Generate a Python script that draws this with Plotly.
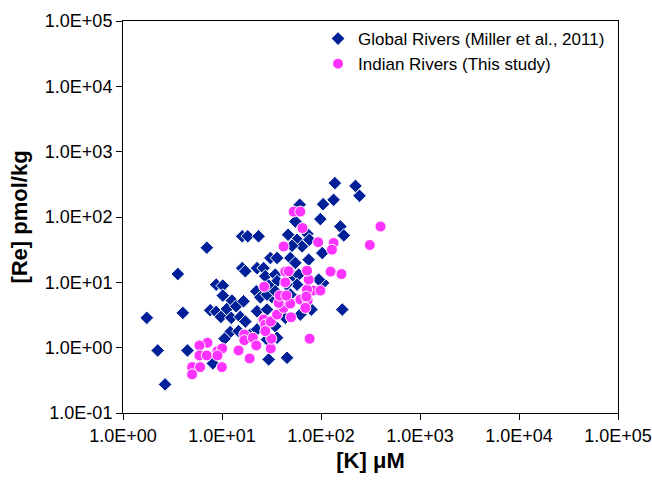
import plotly.graph_objects as go

# Global Rivers (Miller et al., 2011): [K] uM and [Re] pmol/kg
global_k = [1.74, 2.24, 2.66, 3.58, 4.02, 4.48, 7.03, 8.09, 7.60, 8.74,
            11.2, 9.75, 8.74, 10.2, 10.2, 12.4, 12.6, 13.9, 16.5, 15.3,
            17.2, 12.1, 10.6, 14.7, 19.3, 22.6, 22.2, 22.6, 28.5, 24.4,
            32.0, 34.5, 36.0, 28.5, 29.6, 45.4, 43.6, 61.8, 80.0, 164,
            16.0, 18.2, 23.4, 16.0, 17.2, 22.6, 26.3, 27.4, 34.5, 36.0,
            29.6, 28.5, 34.5, 30.8, 36.0, 49.0, 55.1, 46.5, 57.3, 64.4,
            72.8, 76.3, 51.0, 52.9, 59.5, 57.3, 49.0, 75.1, 44.7, 105,
            94.8, 75.1, 103, 98.6, 157, 170, 105, 134, 60.9, 55.1,
            138, 223, 245]
global_re = [2.86, 0.906, 0.274, 13.4, 3.41, 0.906, 33.9, 0.574, 3.74, 3.53,
             3.92, 2.96, 9.22, 8.91, 6.27, 2.86, 5.26, 4.30, 5.13, 2.96,
             2.51, 1.73, 1.37, 1.79, 1.59, 1.90, 7.29, 3.61, 3.83, 5.90,
             5.90, 2.13, 1.42, 1.33, 0.661, 0.701, 2.86, 3.21, 3.83, 3.83,
             50.7, 50.7, 50.7, 16.5, 14.8, 16.5, 16.5, 12.4, 13.1, 10.4,
             8.91, 6.49, 7.29, 23.6, 23.6, 23.6, 19.8, 53.5, 44.9, 35.5,
             55.4, 44.9, 36.3, 12.4, 13.1, 9.22, 6.49, 7.29, 9.22, 9.79,
             11.0, 22.2, 28.1, 92.9, 71.6, 52.2, 157, 183, 154, 85.3,
             330, 299, 211]

# Indian Rivers (This study)
indian_k = [7.13, 5.92, 5.92, 7.03, 9.00, 10.05, 9.00, 4.99, 6.01, 4.99,
            9.98, 16.8, 16.8, 20.5, 22.2, 14.7, 19.0, 31.1, 31.5, 26.3,
            27.4, 31.1, 27.4, 36.0, 41.9, 49.0, 37.3, 38.2, 44.7, 61.8,
            73.3, 69.5, 49.8, 26.7, 43.6, 83.2, 98.6, 72.3, 75.1, 71.1,
            76.8, 43.6, 47.1, 72.3, 125, 161, 65.0, 52.9, 61.8, 41.9,
            93.5, 134, 129, 311, 399]
indian_re = [1.19, 1.08, 0.760, 0.760, 0.885, 0.973, 0.760, 0.504, 0.504, 0.390,
             0.504, 1.59, 1.30, 1.42, 1.08, 0.906, 0.684, 0.973, 1.37, 2.70,
             2.26, 2.51, 1.79, 3.21, 4.06, 4.73, 4.84, 6.27, 6.27, 5.44,
             5.26, 4.06, 2.92, 8.59, 10.0, 7.50, 7.50, 7.74, 11.0, 6.05,
             1.37, 14.6, 14.8, 15.1, 14.6, 13.4, 67.7, 121, 121, 35.5,
             41.1, 40.0, 31.6, 37.3, 71.6]

x_tick_vals = [1, 10, 100, 1000, 10000, 100000]
x_tick_text = ["1.0E+00", "1.0E+01", "1.0E+02", "1.0E+03", "1.0E+04", "1.0E+05"]
y_tick_vals = [0.1, 1, 10, 100, 1000, 10000, 100000]
y_tick_text = ["1.0E-01", "1.0E+00", "1.0E+01", "1.0E+02", "1.0E+03", "1.0E+04", "1.0E+05"]

series_names = ["Global Rivers (Miller et al., 2011)", "Indian Rivers (This study)"]

FONT = "Liberation Sans, Arial, sans-serif"

fig = go.Figure()
fig.add_trace(go.Scatter(
    x=global_k, y=global_re, mode="markers", name=series_names[0],
    marker=dict(symbol="diamond", size=10.5, color="#00209A",
                line=dict(color="white", width=1)),
))
fig.add_trace(go.Scatter(
    x=indian_k, y=indian_re, mode="markers", name=series_names[1],
    marker=dict(symbol="circle", size=11, color="#FF33FF",
                line=dict(color="white", width=1)),
))

axis_common = dict(
    type="log", showgrid=False, zeroline=False, showline=True, mirror=True,
    linecolor="black", linewidth=1, ticks="outside", ticklen=6,
    tickcolor="black", tickwidth=1, automargin=False,
    tickfont=dict(family=FONT, size=18, color="black"),
)

fig.update_xaxes(
    range=[0, 5], tickvals=x_tick_vals, ticktext=x_tick_text,
    title=dict(text="[K] μM", font=dict(family=FONT, size=22, color="black", weight="bold"),
               standoff=8),
    **axis_common,
)
fig.update_yaxes(
    range=[-1, 5], tickvals=y_tick_vals, ticktext=y_tick_text,
    title=dict(text="[Re] pmol/kg", font=dict(family=FONT, size=22, color="black", weight="bold"),
               standoff=11),
    **axis_common,
)

fig.update_layout(
    width=652, height=487,
    margin=dict(l=123, r=34, t=21, b=74, autoexpand=False),
    paper_bgcolor="white", plot_bgcolor="white",
    showlegend=True,
    legend=dict(x=0.394, y=1.0, xanchor="left", yanchor="top",
                bgcolor="rgba(0,0,0,0)", borderwidth=0,
                font=dict(family=FONT, size=17, color="black"),
                itemsizing="constant", tracegroupgap=0),
)

fig.write_html("out.html")
